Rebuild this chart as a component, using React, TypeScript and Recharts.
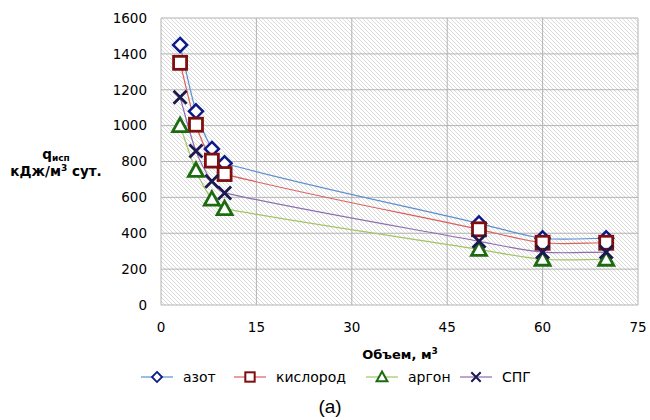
import React from "react";
import { LineChart, Line, XAxis, YAxis, CartesianGrid } from "recharts";

// объем, м3
const volumes = [3, 5.5, 8, 10, 50, 60, 70];
// q исп, кДж/м3 сут.
const azot = [1450, 1080, 870, 790, 455, 372, 372];
const kislorod = [1350, 1005, 805, 730, 422, 347, 347];
const argon = [1000, 750, 590, 537, 310, 255, 255];
const spg = [1158, 858, 690, 625, 355, 295, 295];

const xTicks = [0, 15, 30, 45, 60, 75];
const yTicks = [0, 200, 400, 600, 800, 1000, 1200, 1400, 1600];

const rows = volumes.map((v, i) => ({
  v,
  azot: azot[i],
  kislorod: kislorod[i],
  argon: argon[i],
  spg: spg[i],
}));

type Shape = "diamond" | "square" | "triangle" | "cross";

const series: { key: string; name: string; line: string; mark: string; shape: Shape }[] = [
  { key: "azot", name: "азот", line: "#5b8fd0", mark: "#0a1a8a", shape: "diamond" },
  { key: "kislorod", name: "кислород", line: "#d9605c", mark: "#7f0f0f", shape: "square" },
  { key: "argon", name: "аргон", line: "#a3c463", mark: "#1d6b10", shape: "triangle" },
  { key: "spg", name: "СПГ", line: "#8d6cb0", mark: "#1c1850", shape: "cross" },
];

const font = "'DejaVu Sans', Verdana, sans-serif";

// excel-like smoothed line: bezier with control arms along the neighbour chord,
// arm length proportional to the segment so short steps don't loop
function excelSmooth(context: any) {
  let pts: [number, number][] = [];
  return {
    areaStart() {},
    areaEnd() {},
    lineStart() {
      pts = [];
    },
    point(x: number, y: number) {
      pts.push([+x, +y]);
    },
    lineEnd() {
      const n = pts.length;
      if (!n) return;
      context.moveTo(pts[0][0], pts[0][1]);
      const tan = (i: number) => {
        const a = pts[Math.max(0, i - 1)];
        const b = pts[Math.min(n - 1, i + 1)];
        const dx = b[0] - a[0];
        const dy = b[1] - a[1];
        const len = Math.hypot(dx, dy) || 1;
        return [dx / len, dy / len];
      };
      for (let i = 0; i < n - 1; i++) {
        const p = pts[i];
        const q = pts[i + 1];
        const d = Math.hypot(q[0] - p[0], q[1] - p[1]) * 0.3;
        const t0 = tan(i);
        const t1 = tan(i + 1);
        context.bezierCurveTo(p[0] + t0[0] * d, p[1] + t0[1] * d, q[0] - t1[0] * d, q[1] - t1[1] * d, q[0], q[1]);
      }
    },
  };
}

function Marker({ shape, cx, cy, color, s = 1 }: { shape: Shape; cx: number; cy: number; color: string; s?: number }) {
  if (shape === "diamond") {
    const r = 7 * s;
    return (
      <path
        d={`M${cx},${cy - r} L${cx + r},${cy} L${cx},${cy + r} L${cx - r},${cy} Z`}
        fill="#fff"
        stroke={color}
        strokeWidth={2.5 * s}
      />
    );
  }
  if (shape === "square") {
    const r = 6.5 * s;
    return <rect x={cx - r} y={cy - r} width={2 * r} height={2 * r} fill="#fff" stroke={color} strokeWidth={2.8 * s} />;
  }
  if (shape === "triangle") {
    const r = 7.5 * s;
    return (
      <path
        d={`M${cx},${cy - r} L${cx + r},${cy + r * 0.8} L${cx - r},${cy + r * 0.8} Z`}
        fill="#fff"
        stroke={color}
        strokeWidth={2.8 * s}
      />
    );
  }
  const r = 6.5 * s;
  return (
    <path
      d={`M${cx - r},${cy - r} L${cx + r},${cy + r} M${cx + r},${cy - r} L${cx - r},${cy + r}`}
      stroke={color}
      strokeWidth={2.8 * s}
      fill="none"
    />
  );
}

const legendX = [141, 234, 366, 460];

export default function App() {
  return (
    <div style={{ position: "absolute", left: 0, top: 0, width: 650, height: 420, background: "#fff" }}>
      <svg width={0} height={0} style={{ position: "absolute" }}>
        <defs>
          <pattern id="hatch" width={4} height={4} patternUnits="userSpaceOnUse">
            <rect width={4} height={4} fill="#fff" />
            <path d="M0,0 L4,4 M-1,3 L1,5 M3,-1 L5,1" stroke="#d0d0d0" strokeWidth={0.8} />
          </pattern>
        </defs>
      </svg>
      <LineChart width={650} height={420} data={rows} margin={{ top: 18, right: 12, left: 0, bottom: 85 }}>
        <CartesianGrid stroke="#b3b3b3" fill="url(#hatch)" fillOpacity={1} />
        <XAxis
          dataKey="v"
          type="number"
          domain={[0, 75]}
          ticks={xTicks}
          height={30}
          tickLine={false}
          axisLine={false}
          tickSize={8}
          tickMargin={9}
          tick={{ fill: "#000", fontSize: 13.5, fontFamily: font }}
        />
        <YAxis
          type="number"
          domain={[0, 1600]}
          ticks={yTicks}
          width={161}
          tickLine={false}
          axisLine={false}
          tickSize={8}
          tickMargin={6}
          tick={{ fill: "#000", fontSize: 13.5, fontFamily: font }}
        />
        {series.map((s) => (
          <Line
            key={s.key}
            dataKey={s.key}
            type={excelSmooth as any}
            stroke={s.line}
            strokeWidth={1.2}
            isAnimationActive={false}
            dot={(p: any) => (
              <Marker key={`${s.key}-${p.index}`} shape={s.shape} cx={p.cx} cy={p.cy} color={s.mark} />
            )}
            activeDot={false}
          />
        ))}
      </LineChart>
      <svg width={650} height={420} style={{ position: "absolute", left: 0, top: 0, pointerEvents: "none" }}>
        <text x={56} y={159} textAnchor="middle" fontFamily={font} fontWeight="bold" fontSize={13.5}>
          q<tspan fontSize={9} dy={2}>исп</tspan>
        </text>
        <text x={56} y={176} textAnchor="middle" fontFamily={font} fontWeight="bold" fontSize={13.5}>
          кДж/м<tspan fontSize={9} dy={-5}>3</tspan>
          <tspan dy={5}> сут.</tspan>
        </text>
        <text x={400} y={359} textAnchor="middle" fontFamily={font} fontWeight="bold" fontSize={13}>
          Объем, м<tspan fontSize={9} dy={-5}>3</tspan>
        </text>
        {series.map((s, i) => (
          <g key={s.key}>
            <line x1={legendX[i]} x2={legendX[i] + 32} y1={377} y2={377} stroke={s.line} strokeWidth={1.2} />
            <Marker shape={s.shape} cx={legendX[i] + 16} cy={377} color={s.mark} s={0.72} />
            <text x={legendX[i] + 42} y={381.5} fontFamily={font} fontSize={14} fill="#000">
              {s.name}
            </text>
          </g>
        ))}
        <text x={330} y={413} textAnchor="middle" fontFamily="'Liberation Sans', Arial, sans-serif" fontSize={19}>
          (а)
        </text>
      </svg>
    </div>
  );
}
